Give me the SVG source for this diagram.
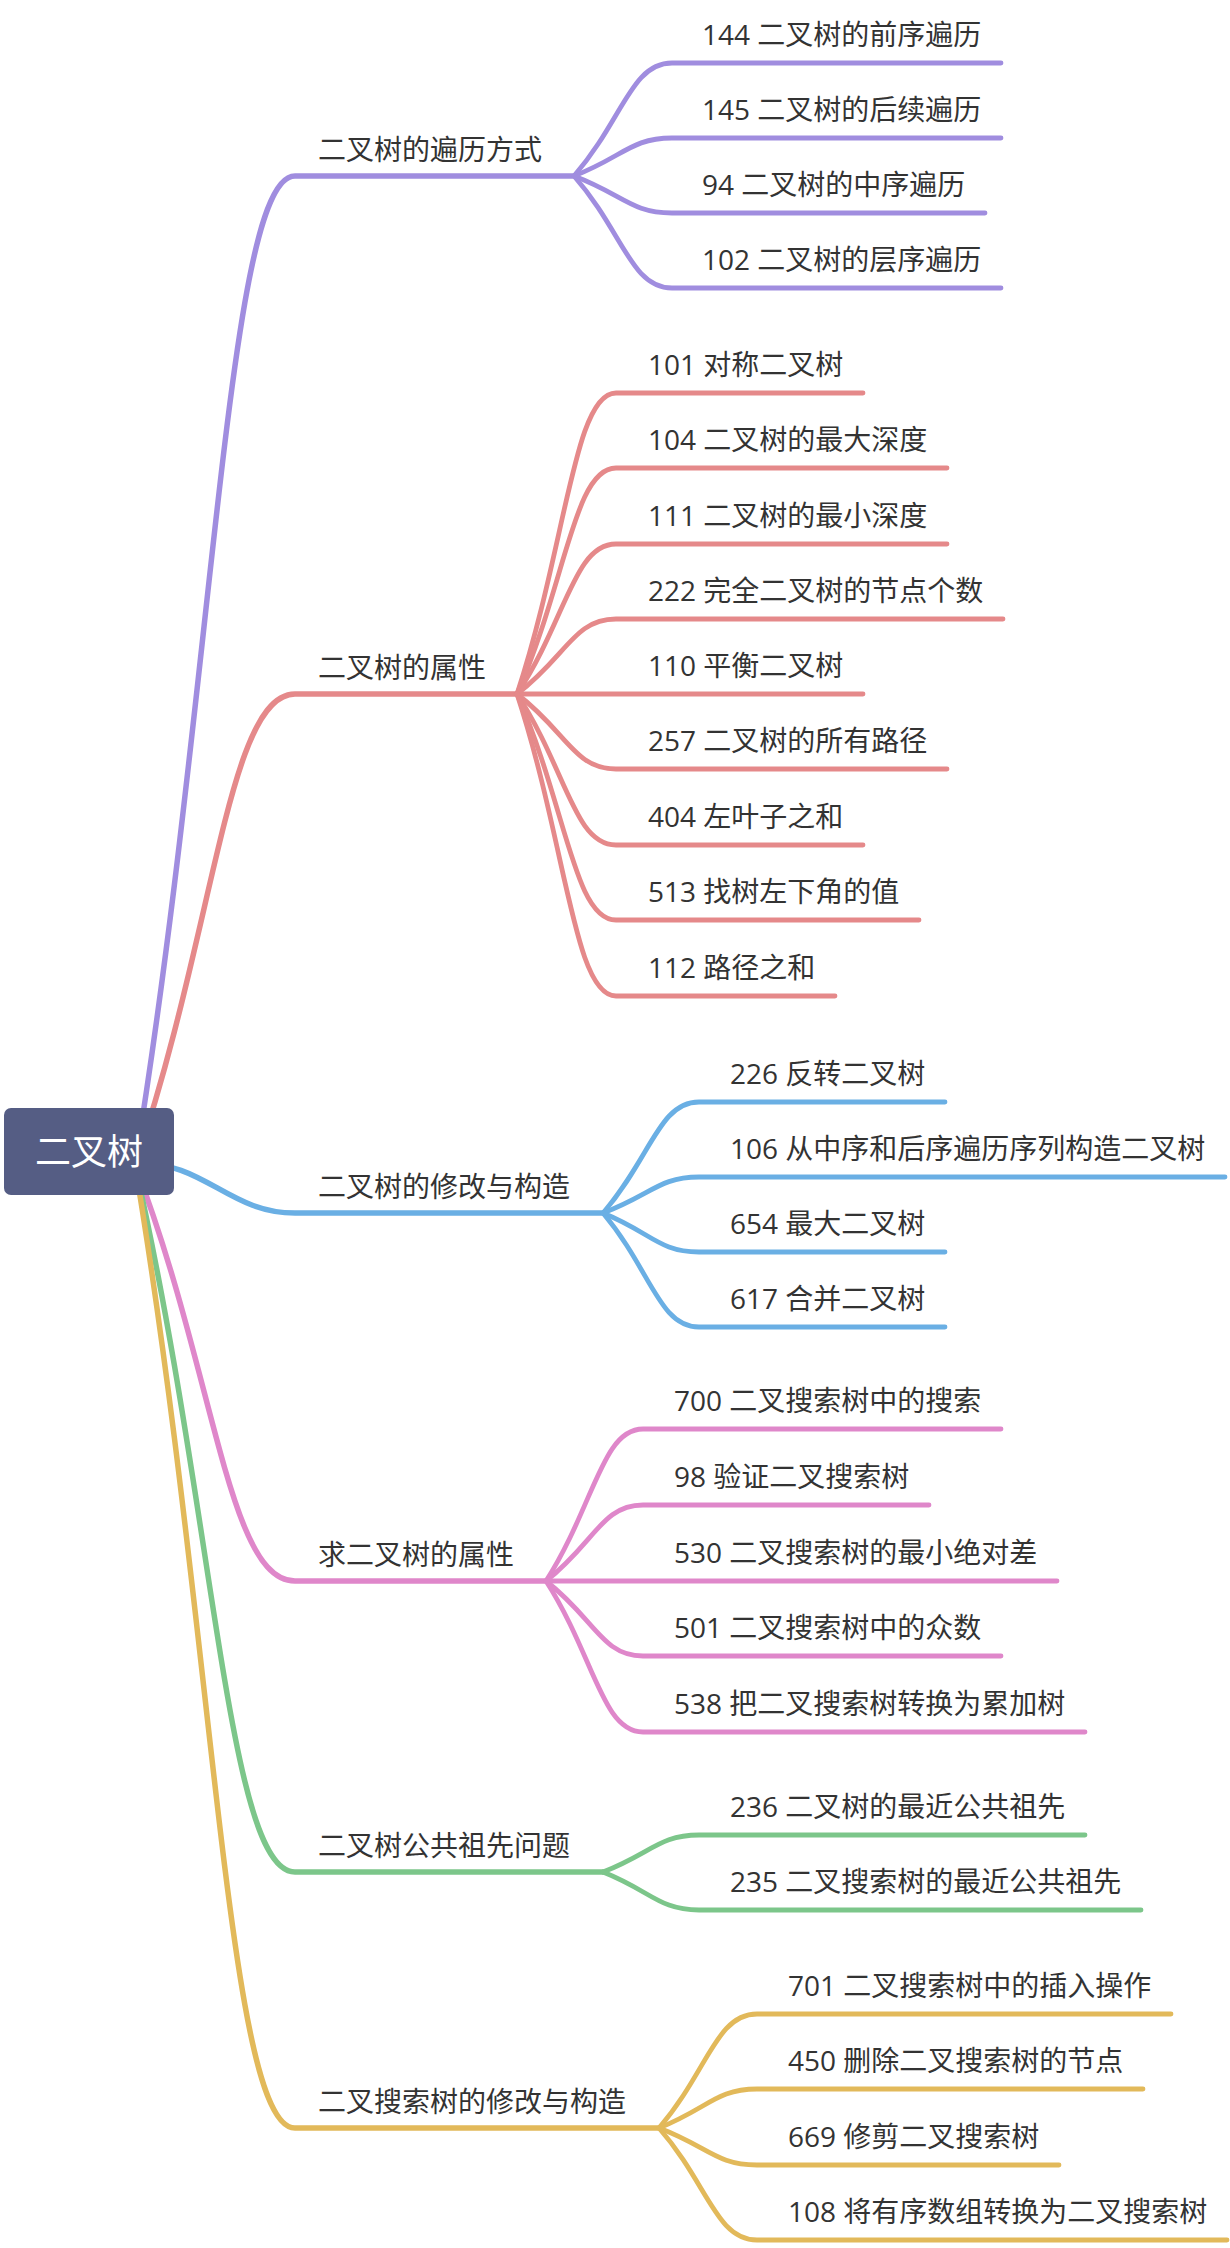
<svg xmlns="http://www.w3.org/2000/svg" width="1230" height="2248" viewBox="0 0 1230 2248">
<style>
.c{fill:none;stroke-linecap:round;stroke-linejoin:round}
.b{stroke-width:5.5}
.l{stroke-width:4.8}
.pu{stroke:#a08ddf}
.re{stroke:#e5898a}
.bl{stroke:#6aafe4}
.pk{stroke:#df87ca}
.gr{stroke:#7cc68a}
.ye{stroke:#e2b95a}
text{font-family:"Open Sans","Noto Sans CJK SC",sans-serif;fill:#333333}
.t{font-size:28px}
.m{font-size:28px}
.r{font-size:36px;fill:#ffffff;text-anchor:middle}
</style>
<rect width="1230" height="2248" fill="#ffffff"/>
<g id="connectors">
<path class="c b pu" d="M135,1165 C215,670.5 228,176 295,176 L574,176"/>
<path class="c b re" d="M135,1165 C215,929.5 228,694 295,694 L517,694"/>
<path class="c b bl" d="M135,1163 C205,1161 228,1213 295,1213 L603,1213"/>
<path class="c b pk" d="M135,1165 C215,1373 228,1581 295,1581 L546,1581"/>
<path class="c b gr" d="M135,1165 C215,1518.5 228,1872 295,1872 L603,1872"/>
<path class="c b ye" d="M135,1165 C215,1646.5 228,2128 295,2128 L659,2128"/>
<path class="c l pu" d="M574,176 C623,119.5 631,63 672,63 L1001,63"/>
<path class="c l pu" d="M574,176 C623,157 631,138 672,138 L1001,138"/>
<path class="c l pu" d="M574,176 C623,194.5 631,213 672,213 L985,213"/>
<path class="c l pu" d="M574,176 C623,232 631,288 672,288 L1001,288"/>
<path class="c l re" d="M517,694 C566.5,543.5 574,393 616,393 L863,393"/>
<path class="c l re" d="M517,694 C566.5,581 574,468 616,468 L947,468"/>
<path class="c l re" d="M517,694 C566.5,619 574,544 616,544 L947,544"/>
<path class="c l re" d="M517,694 C566.5,656.5 574,619 616,619 L1003,619"/>
<path class="c l re" d="M517,694 L863,694"/>
<path class="c l re" d="M517,694 C566.5,731.5 574,769 616,769 L947,769"/>
<path class="c l re" d="M517,694 C566.5,769.5 574,845 616,845 L863,845"/>
<path class="c l re" d="M517,694 C566.5,807 574,920 616,920 L919,920"/>
<path class="c l re" d="M517,694 C566.5,845 574,996 616,996 L835,996"/>
<path class="c l bl" d="M603,1213 C651,1157.5 659,1102 699,1102 L945,1102"/>
<path class="c l bl" d="M603,1213 C651,1195 659,1177 699,1177 L1225,1177"/>
<path class="c l bl" d="M603,1213 C651,1232.5 659,1252 699,1252 L945,1252"/>
<path class="c l bl" d="M603,1213 C651,1270 659,1327 699,1327 L945,1327"/>
<path class="c l pk" d="M546,1581 C594.5,1505 602,1429 643,1429 L1001,1429"/>
<path class="c l pk" d="M546,1581 C594.5,1543 602,1505 643,1505 L929,1505"/>
<path class="c l pk" d="M546,1581 L1057,1581"/>
<path class="c l pk" d="M546,1581 C594.5,1618.5 602,1656 643,1656 L1001,1656"/>
<path class="c l pk" d="M546,1581 C594.5,1656.5 602,1732 643,1732 L1085,1732"/>
<path class="c l gr" d="M603,1872 C651,1853.5 659,1835 699,1835 L1085,1835"/>
<path class="c l gr" d="M603,1872 C651,1891 659,1910 699,1910 L1141,1910"/>
<path class="c l ye" d="M659,2128 C708,2071 716,2014 757,2014 L1171,2014"/>
<path class="c l ye" d="M659,2128 C708,2108.5 716,2089 757,2089 L1143,2089"/>
<path class="c l ye" d="M659,2128 C708,2146.5 716,2165 757,2165 L1059,2165"/>
<path class="c l ye" d="M659,2128 C708,2184 716,2240 757,2240 L1227,2240"/>
</g>
<g id="node-root">
<rect x="4" y="1108" width="170" height="87" rx="7" fill="#555d84"/>
<text class="r" x="89" y="1165">二叉树</text>
</g>
<g id="node-traversal"><text class="m" x="318" y="160">二叉树的遍历方式</text></g>
<g id="node-t144"><text class="t" x="702" y="45">144 二叉树的前序遍历</text></g>
<g id="node-t145"><text class="t" x="702" y="120">145 二叉树的后续遍历</text></g>
<g id="node-t94"><text class="t" x="702" y="195">94 二叉树的中序遍历</text></g>
<g id="node-t102"><text class="t" x="702" y="270">102 二叉树的层序遍历</text></g>
<g id="node-props"><text class="m" x="318" y="678">二叉树的属性</text></g>
<g id="node-p101"><text class="t" x="648" y="375">101 对称二叉树</text></g>
<g id="node-p104"><text class="t" x="648" y="450">104 二叉树的最大深度</text></g>
<g id="node-p111"><text class="t" x="648" y="526">111 二叉树的最小深度</text></g>
<g id="node-p222"><text class="t" x="648" y="601">222 完全二叉树的节点个数</text></g>
<g id="node-p110"><text class="t" x="648" y="676">110 平衡二叉树</text></g>
<g id="node-p257"><text class="t" x="648" y="751">257 二叉树的所有路径</text></g>
<g id="node-p404"><text class="t" x="648" y="827">404 左叶子之和</text></g>
<g id="node-p513"><text class="t" x="648" y="902">513 找树左下角的值</text></g>
<g id="node-p112"><text class="t" x="648" y="978">112 路径之和</text></g>
<g id="node-modify"><text class="m" x="318" y="1197">二叉树的修改与构造</text></g>
<g id="node-m226"><text class="t" x="730" y="1084">226 反转二叉树</text></g>
<g id="node-m106"><text class="t" x="730" y="1159">106 从中序和后序遍历序列构造二叉树</text></g>
<g id="node-m654"><text class="t" x="730" y="1234">654 最大二叉树</text></g>
<g id="node-m617"><text class="t" x="730" y="1309">617 合并二叉树</text></g>
<g id="node-bstprops"><text class="m" x="318" y="1565">求二叉树的属性</text></g>
<g id="node-b700"><text class="t" x="674" y="1411">700 二叉搜索树中的搜索</text></g>
<g id="node-b98"><text class="t" x="674" y="1487">98 验证二叉搜索树</text></g>
<g id="node-b530"><text class="t" x="674" y="1563">530 二叉搜索树的最小绝对差</text></g>
<g id="node-b501"><text class="t" x="674" y="1638">501 二叉搜索树中的众数</text></g>
<g id="node-b538"><text class="t" x="674" y="1714">538 把二叉搜索树转换为累加树</text></g>
<g id="node-lca"><text class="m" x="318" y="1856">二叉树公共祖先问题</text></g>
<g id="node-a236"><text class="t" x="730" y="1817">236 二叉树的最近公共祖先</text></g>
<g id="node-a235"><text class="t" x="730" y="1892">235 二叉搜索树的最近公共祖先</text></g>
<g id="node-bstmod"><text class="m" x="318" y="2112">二叉搜索树的修改与构造</text></g>
<g id="node-s701"><text class="t" x="788" y="1996">701 二叉搜索树中的插入操作</text></g>
<g id="node-s450"><text class="t" x="788" y="2071">450 删除二叉搜索树的节点</text></g>
<g id="node-s669"><text class="t" x="788" y="2147">669 修剪二叉搜索树</text></g>
<g id="node-s108"><text class="t" x="788" y="2222">108 将有序数组转换为二叉搜索树</text></g>
</svg>
